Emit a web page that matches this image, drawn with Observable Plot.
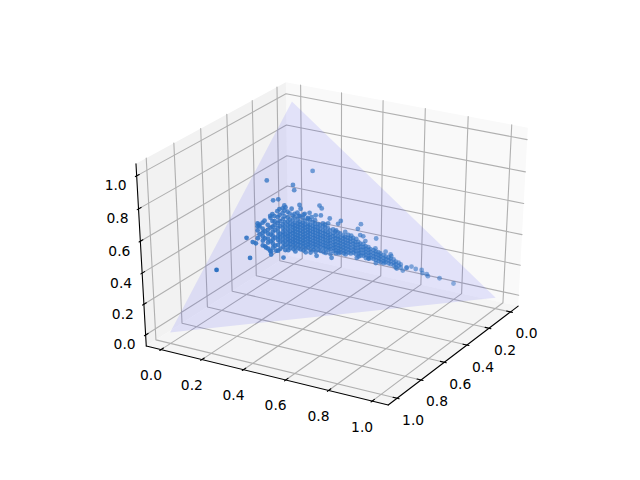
<!DOCTYPE html>
<html><head><meta charset="utf-8">
<style>html,body{margin:0;padding:0;background:#fff}svg{display:block}</style>
<script src="https://cdn.jsdelivr.net/npm/d3@7"></script>
<script src="https://cdn.jsdelivr.net/npm/@observablehq/plot@0.6"></script>
</head><body><div id="chart"></div>
<script>
const ticks = [0, 0.2, 0.4, 0.6, 0.8, 1];
const tickLabels = ["0.0", "0.2", "0.4", "0.6", "0.8", "1.0"];
const simplex = [[1,0,0],[0,1,0],[0,0,1]];
const samples = [
[.459,.101],[.471,.108],[.493,.122],[.435,.111],[.452,.121],[.463,.128],[.474,.135],[.486,.142],[.500,.150],
[.427,.131],[.441,.140],[.452,.147],[.466,.155],[.477,.162],[.494,.173],
[.383,.128],[.403,.140],[.419,.150],[.433,.159],[.445,.166],[.456,.173],[.467,.180],[.478,.187],
[.361,.139],[.377,.150],[.394,.160],[.408,.169],[.419,.176],[.431,.183],[.442,.190],[.456,.198],[.473,.208],
[.338,.151],[.352,.159],[.369,.170],[.383,.178],[.394,.185],[.405,.192],[.414,.197],[.425,.204],[.436,.211],[.447,.218],
[.334,.173],[.350,.183],[.362,.190],[.373,.197],[.384,.204],[.395,.211],[.404,.216],[.412,.221],[.420,.226],[.432,.233],[.443,.240],
[.331,.196],[.345,.204],[.356,.211],[.364,.216],[.373,.222],[.381,.227],[.390,.232],[.398,.237],[.406,.242],[.415,.248],[.426,.255],
[.309,.206],[.329,.219],[.340,.226],[.349,.231],[.357,.236],[.365,.241],[.374,.246],[.382,.251],[.391,.257],[.399,.262],[.410,.269],
[.309,.232],[.323,.241],[.332,.246],[.340,.251],[.349,.256],[.357,.262],[.365,.267],[.374,.272],[.382,.277],[.391,.282],[.402,.289],
[.298,.250],[.312,.259],[.321,.264],[.329,.269],[.337,.274],[.346,.279],[.354,.284],[.363,.290],[.371,.295],[.379,.300],
[.294,.272],[.305,.279],[.313,.284],[.322,.289],[.330,.295],[.338,.300],[.347,.305],[.355,.310],[.364,.315],[.372,.321],
[.285,.292],[.296,.298],[.305,.304],[.313,.309],[.322,.314],[.330,.319],[.338,.324],[.347,.330],[.358,.337],
[.278,.312],[.289,.319],[.297,.324],[.306,.329],[.314,.334],[.323,.340],[.331,.345],[.339,.350],[.351,.357],
[.269,.331],[.281,.338],[.289,.344],[.297,.349],[.306,.354],[.314,.359],[.323,.364],[.331,.370],
[.258,.350],[.269,.357],[.278,.362],[.286,.367],[.295,.373],[.303,.378],[.311,.383],[.320,.388],
[.254,.371],[.265,.378],[.273,.383],[.282,.389],[.290,.394],[.298,.399],[.307,.404],
[.248,.394],[.256,.399],[.265,.404],[.273,.409],[.282,.414],[.290,.420],[.298,.425],
[.241,.413],[.249,.418],[.257,.423],[.266,.429],[.274,.434],[.283,.439],
[.235,.435],[.243,.440],[.252,.446],[.260,.451],[.269,.456],
[.224,.453],[.232,.458],[.241,.463],[.249,.469],[.257,.474],[.266,.479],
[.216,.473],[.225,.479],[.233,.484],[.242,.489],[.250,.494],
[.211,.495],[.219,.500],[.228,.505],[.236,.510],[.244,.515],
[.206,.517],[.215,.522],[.223,.527],[.231,.532],
[.198,.536],[.206,.541],[.215,.547],[.223,.552],
[.192,.558],[.201,.564],[.209,.569],
[.185,.578],[.193,.583],[.202,.588],
[.176,.598],[.185,.604],[.193,.609],
[.172,.620],[.180,.625],
[.301,.053],[.241,.145],[.253,.158],[.341,.107],[.324,.122],[.523,.085],[.518,.112],[.513,.124],[.571,.130],[.697,.043],[.478,.237],[.145,.185],
[.281,.200],[.289,.210],[.227,.266],[.229,.278],[.276,.246],[.298,.230],[.266,.270],[.252,.287],[.283,.260],[.236,.321],[.212,.361],[.228,.357],[.255,.324],[.269,.307],
[.165,.432],[.187,.430],[.253,.362],[.232,.394],[.250,.380],[.194,.460],[.199,.448],[.226,.420],[.221,.442],[.164,.506],[.202,.475],[.195,.520],[.176,.559],[.170,.580],[.173,.585],
[.345,.393],[.381,.341],[.388,.316],[.312,.408],[.275,.475],[.237,.546],[.244,.515],[.215,.572],
[.194,.624],[.183,.647],[.164,.655],[.164,.655],[.147,.669],[.142,.687],[.128,.708],[.135,.716],[.126,.732],[.129,.739],[.102,.781],[.078,.836],
[.497,.164],[.495,.182],[.503,.192],[.478,.202],[.394,.124],[.397,.147],[.451,.096],[.454,.107],[.327,.159],[.314,.181],
[.449,.104],[.477,.121],[.424,.114],[.454,.133],[.474,.145],[.496,.159],[.399,.128],[.427,.145],[.447,.157],[.466,.169],[.494,.187],
[.383,.138],[.408,.154],[.422,.163],[.444,.176],[.467,.190],[.349,.142],[.366,.153],[.383,.163],[.397,.172],[.419,.186],[.430,.192],[.441,.199],[.461,.212],
[.325,.152],[.339,.161],[.356,.171],[.372,.182],[.384,.189],[.395,.196],[.406,.203],[.414,.208],[.426,.215],[.437,.222],[.451,.230],
[.333,.182],[.350,.193],[.361,.200],[.372,.206],[.384,.213],[.392,.219],[.403,.225],[.412,.231],[.420,.236],[.431,.243],
[.331,.206],[.345,.215],[.354,.220],[.362,.225],[.371,.230],[.379,.236],[.387,.241],[.396,.246],[.404,.251],[.415,.258],[.427,.265],
[.312,.219],[.329,.229],[.337,.234],[.345,.239],[.354,.245],[.362,.250],[.371,.255],[.379,.260],[.387,.265],[.396,.271],[.407,.278],
[.292,.232],[.312,.244],[.323,.251],[.331,.256],[.340,.262],[.348,.267],[.357,.272],[.365,.277],[.373,.282],[.382,.288],[.390,.293],[.401,.300],
[.296,.259],[.310,.267],[.318,.272],[.327,.278],[.335,.283],[.344,.288],[.352,.293],[.360,.298],[.369,.304],[.380,.311],
[.293,.282],[.302,.288],[.310,.293],[.318,.298],[.327,.303],[.335,.308],[.344,.314],[.352,.319],[.360,.324],[.372,.331],
[.283,.300],[.294,.307],[.303,.312],[.311,.318],[.319,.323],[.328,.328],[.336,.333],[.345,.338],[.356,.345],
[.275,.321],[.286,.328],[.294,.333],[.303,.338],[.311,.343],[.319,.348],[.328,.354],[.336,.359],[.347,.366],
[.270,.342],[.281,.349],[.290,.354],[.298,.359],[.306,.364],[.315,.370],[.323,.375],[.337,.383],
[.259,.361],[.270,.368],[.278,.373],[.287,.378],[.295,.383],[.304,.388],[.312,.394],[.320,.399],
[.262,.387],[.270,.392],[.278,.397],[.287,.403],[.295,.408],[.304,.413],
[.246,.402],[.254,.407],[.263,.413],[.271,.418],[.279,.423],[.288,.428],[.296,.433],
[.237,.422],[.246,.427],[.254,.432],[.263,.437],[.271,.443],[.279,.448],
[.233,.444],[.241,.449],[.250,.454],[.258,.459],[.266,.465],
[.224,.463],[.233,.469],[.241,.474],[.250,.479],[.258,.484],
[.216,.484],[.224,.489],[.233,.494],[.241,.499],[.250,.505],
[.211,.505],[.220,.510],[.228,.515],[.237,.521],
[.203,.526],[.211,.531],[.220,.536],[.228,.541],
[.196,.545],[.204,.550],[.212,.555],[.221,.561],
[.190,.567],[.198,.572],[.207,.577],
[.182,.587],[.190,.592],[.198,.597],
[.177,.609],[.185,.614],[.194,.619],
[.171,.630],[.180,.635],
[.321,.199],[.315,.216],[.295,.249],[.282,.276],[.266,.316],[.232,.409],[.227,.430]
];
const lim = [-0.05, 1.05];
const viewDomain = [-0.095, 0.09];
const span = lim[1] - lim[0], delta = span / 12;
const lo = lim[0] - delta / 4, hi = lim[1] + delta / 4;
const dist = 10, az = 30 * Math.PI / 180, el = 30 * Math.PI / 180;
const n = [Math.cos(az) * Math.cos(el), Math.sin(az) * Math.cos(el), Math.sin(el)];
const u = [-Math.sin(az), Math.cos(az), 0];
const v = [n[1]*u[2]-n[2]*u[1], n[2]*u[0]-n[0]*u[2], n[0]*u[1]-n[1]*u[0]];
const dot3 = (a, b) => a[0]*b[0] + a[1]*b[1] + a[2]*b[2];
function proj(p) {
  const q = p.map(c => (c - lim[0]) / span - 0.5);
  const w = dist - dot3(n, q);
  return {x: dot3(u, q) / w, y: dot3(v, q) / w, depth: w};
}
const path = (id, pts) => pts.map(p => ({id, ...proj(p)}));

const paneMarks = [
  Plot.line(path("x", [[lo,lo,lo],[lo,hi,lo],[lo,hi,hi],[lo,lo,hi]]), {x:"x", y:"y", fill:"#f9f9f9", stroke:"none"}),
  Plot.line(path("y", [[lo,lo,lo],[hi,lo,lo],[hi,lo,hi],[lo,lo,hi]]), {x:"x", y:"y", fill:"#f2f2f2", stroke:"none"}),
  Plot.line(path("z", [[lo,lo,lo],[hi,lo,lo],[hi,hi,lo],[lo,hi,lo]]), {x:"x", y:"y", fill:"#f5f5f5", stroke:"none"})
];
const grid = ticks.flatMap((t, i) => [
  ...path("gx"+i, [[t,hi,lo],[t,lo,lo],[t,lo,hi]]),
  ...path("gy"+i, [[hi,t,lo],[lo,t,lo],[lo,t,hi]]),
  ...path("gz"+i, [[hi,lo,t],[lo,lo,t],[lo,hi,t]])
]);
const axes = [
  ...path("ax", [[lo,hi,lo],[hi,hi,lo]]),
  ...path("ay", [[hi,lo,lo],[hi,hi,lo]]),
  ...path("az", [[hi,lo,lo],[hi,lo,hi]])
];
const out = 0.1 * delta, inn = 0.2 * delta;
const tickSegs = ticks.flatMap((t, i) => [
  ...path("tx"+i, [[t,hi+out,lo],[t,hi-inn,lo]]),
  ...path("ty"+i, [[hi+out,t,lo],[hi-inn,t,lo]]),
  ...path("tz"+i, [[hi+out,lo,t],[hi-inn,lo,t]])
]);
const labels = ticks.flatMap((t, i) => [
  {text: tickLabels[i], ...proj([t,hi,lo]), axis:"x"},
  {text: tickLabels[i], ...proj([hi,t,lo]), axis:"y"},
  {text: tickLabels[i], ...proj([hi,lo,t]), axis:"z"}
]);
const pts = samples.map(([x, y]) => proj([x, y, 1 - x - y]));
const [dMin, dMax] = d3.extent(pts, d => d.depth);
const textOpts = {x:"x", y:"y", text:"text", fontSize:13.89, fontFamily:"DejaVu Sans", fill:"#000"};
const chart = Plot.plot({
  width: 640, height: 480, margin: 0,
  x: {domain: viewDomain, range: [80, 576], axis: null},
  y: {domain: viewDomain, range: [427.2, 57.6], axis: null},
  marks: [
    ...paneMarks,
    Plot.line(grid, {x:"x", y:"y", z:"id", stroke:"#b0b0b0", strokeWidth:1.1}),
    Plot.line(axes, {x:"x", y:"y", z:"id", stroke:"#000", strokeWidth:1.1}),
    Plot.line(tickSegs, {x:"x", y:"y", z:"id", stroke:"#000", strokeWidth:1.1}),
    Plot.text(labels.filter(d => d.axis==="x"), {...textOpts, dx:16, dy:22}),
    Plot.text(labels.filter(d => d.axis==="y"), {...textOpts, dx:-10, dy:26}),
    Plot.text(labels.filter(d => d.axis==="z"), {...textOpts, dx:-21, dy:10}),
    Plot.line(path("s", simplex), {x:"x", y:"y", fill:"#0000ff", fillOpacity:0.09, stroke:"none"}),
    Plot.dot(pts, {x:"x", y:"y", r:2.4, fill:"#2f72c2", stroke:"none",
      fillOpacity: {value: d => 1 - 0.5 * (d.depth - dMin) / (dMax - dMin), scale: null}})
  ]
});
document.getElementById("chart").append(chart);
</script></body></html>
